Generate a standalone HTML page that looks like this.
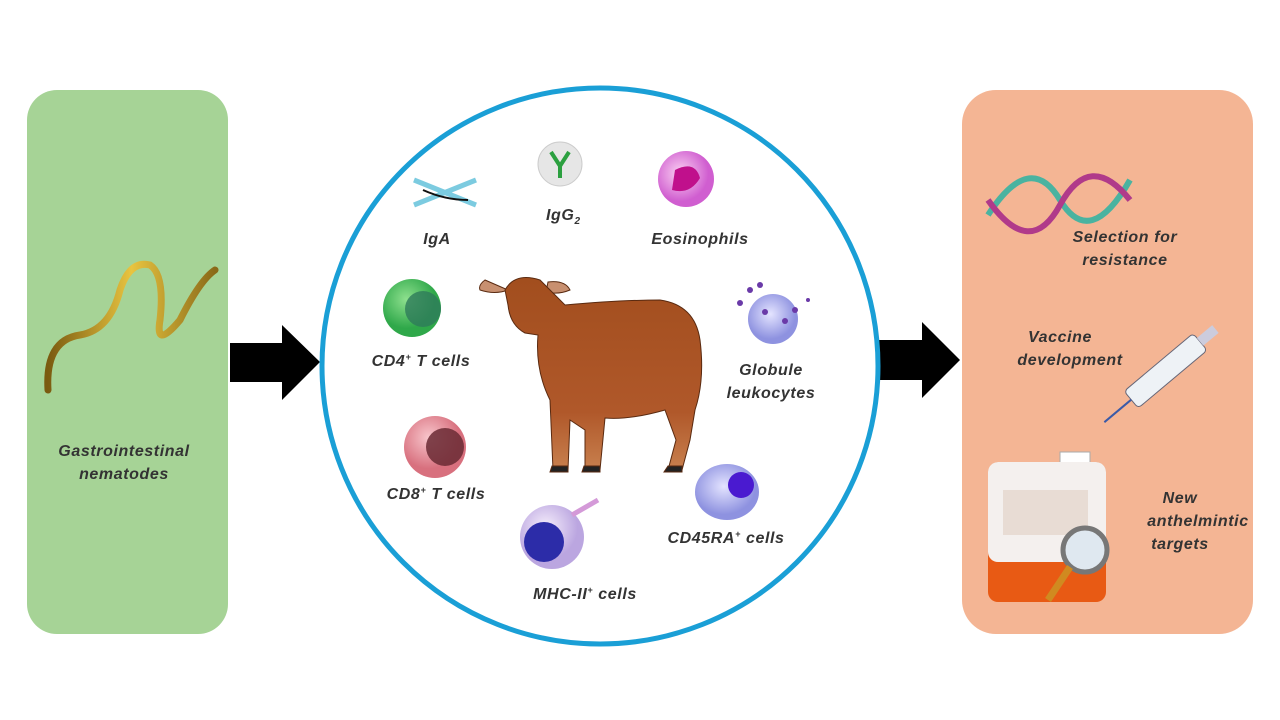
<!DOCTYPE html>
<html><head><meta charset="utf-8"><style>
html,body{margin:0;padding:0;background:#fff;}
svg{display:block;}
text{font-family:"Liberation Sans",sans-serif;font-style:italic;font-weight:bold;font-size:16px;letter-spacing:0.6px;fill:#333;}
</style></head><body>
<svg width="1280" height="720" viewBox="0 0 1280 720">
<defs>
<radialGradient id="g1" cx="40%" cy="35%"><stop offset="0" stop-color="#8ee08e"/><stop offset="1" stop-color="#2fa84a"/></radialGradient>
<radialGradient id="g2" cx="40%" cy="35%"><stop offset="0" stop-color="#f8c6cc"/><stop offset="1" stop-color="#d8707e"/></radialGradient>
<radialGradient id="g3" cx="40%" cy="35%"><stop offset="0" stop-color="#f6eefc"/><stop offset="1" stop-color="#bba6e0"/></radialGradient>
<radialGradient id="g4" cx="45%" cy="40%"><stop offset="0" stop-color="#e4e4ff"/><stop offset="1" stop-color="#8e92e0"/></radialGradient>
<radialGradient id="g5" cx="40%" cy="40%"><stop offset="0" stop-color="#fbd2f2"/><stop offset="1" stop-color="#d05ed0"/></radialGradient>
<linearGradient id="worm" x1="0" x2="1"><stop offset="0" stop-color="#7a5a10"/><stop offset="0.5" stop-color="#e8c440"/><stop offset="1" stop-color="#8a6a18"/></linearGradient>
<linearGradient id="goat" x1="0" y1="0" x2="0" y2="1"><stop offset="0" stop-color="#a24e1e"/><stop offset="0.7" stop-color="#b0582a"/><stop offset="1" stop-color="#c8804e"/></linearGradient>
</defs>
<rect x="27" y="90" width="201" height="544" rx="30" fill="#a6d396"/>
<rect x="962" y="90" width="291" height="544" rx="34" fill="#f4b594"/>
<!-- worm -->
<path d="M48 390 Q45 340 80 335 Q110 330 120 290 Q130 260 150 265 Q165 275 160 320 Q155 350 180 320 Q200 280 215 270" fill="none" stroke="url(#worm)" stroke-width="7" stroke-linecap="round"/>
<text x="124" y="456" text-anchor="middle">Gastrointestinal</text>
<text x="124" y="479" text-anchor="middle">nematodes</text>
<!-- arrows -->
<polygon points="230,343 282,343 282,325 320,362 282,400 282,382 230,382" fill="#000"/>
<polygon points="868,340 922,340 922,322 960,360 922,398 922,380 868,380" fill="#000"/>
<!-- circle -->
<circle cx="600" cy="366" r="278" fill="#fff" stroke="#1a9fd6" stroke-width="5"/>
<!-- IgA -->
<g stroke="#7ccbe0" stroke-width="5"><line x1="414" y1="180" x2="476" y2="205"/><line x1="414" y1="205" x2="476" y2="180"/></g>
<path d="M423 190 Q445 200 468 200" stroke="#111" stroke-width="2" fill="none"/>
<text x="437" y="244" text-anchor="middle">IgA</text>
<circle cx="560" cy="164" r="22" fill="#e6e6e6" stroke="#ccc"/>
<path d="M551 152 L560 166 L569 152 M560 166 L560 178" stroke="#2ca040" stroke-width="4" fill="none"/>
<text x="546" y="220" text-anchor="start">IgG<tspan font-size="10" dy="4">2</tspan></text>
<circle cx="686" cy="179" r="28" fill="url(#g5)"/>
<path d="M675 170 Q695 160 700 178 Q690 195 672 190" fill="#c0108c"/>
<text x="700" y="244" text-anchor="middle">Eosinophils</text>
<circle cx="412" cy="308" r="29" fill="url(#g1)"/>
<circle cx="423" cy="309" r="18" fill="#2e7a5a" opacity="0.8"/>
<text x="421" y="366" text-anchor="middle">CD4<tspan font-size="9" dy="-6">+</tspan><tspan dy="6"> T cells</tspan></text>
<circle cx="435" cy="447" r="31" fill="url(#g2)"/>
<circle cx="445" cy="447" r="19" fill="#6a2a34" opacity="0.85"/>
<text x="436" y="499" text-anchor="middle">CD8<tspan font-size="9" dy="-6">+</tspan><tspan dy="6"> T cells</tspan></text>
<circle cx="552" cy="537" r="32" fill="url(#g3)"/>
<circle cx="544" cy="542" r="20" fill="#2c2ca8"/>
<line x1="572" y1="515" x2="598" y2="500" stroke="#d49ad8" stroke-width="5"/>
<text x="585" y="599" text-anchor="middle">MHC-II<tspan font-size="9" dy="-6">+</tspan><tspan dy="6"> cells</tspan></text>
<ellipse cx="727" cy="492" rx="32" ry="28" fill="url(#g4)"/>
<circle cx="741" cy="485" r="13" fill="#4a1ad0"/>
<text x="726" y="543" text-anchor="middle">CD45RA<tspan font-size="9" dy="-6">+</tspan><tspan dy="6"> cells</tspan></text>
<circle cx="773" cy="319" r="25" fill="url(#g4)"/>
<g fill="#6a3aa8"><circle cx="750" cy="290" r="3"/><circle cx="760" cy="285" r="3"/><circle cx="795" cy="310" r="3"/><circle cx="808" cy="300" r="2"/><circle cx="740" cy="303" r="3"/><circle cx="765" cy="312" r="3"/><circle cx="785" cy="321" r="3"/></g>
<text x="771" y="375" text-anchor="middle">Globule</text>
<text x="771" y="398" text-anchor="middle">leukocytes</text>
<!-- goat -->
<g stroke="#5a2a10" stroke-width="1">
<path d="M485 280 Q478 285 480 290 Q495 295 508 290 Z" fill="#c89070"/>
<path d="M548 282 Q565 280 570 290 Q558 295 546 292 Z" fill="#c89070"/>
<path d="M505 290 Q515 272 540 280 Q555 295 565 305 Q620 300 660 300 Q695 305 700 340 Q705 380 695 410 L690 440 L682 470 L668 470 L676 440 L665 410 Q630 420 605 418 L600 470 L585 470 L585 430 L570 420 L568 470 L553 470 L550 400 Q535 370 538 335 L525 333 Q510 325 508 305 Z" fill="url(#goat)"/>
<path d="M552 466 L568 466 L568 472 L550 472 Z M584 466 L600 466 L600 472 L582 472 Z M668 466 L682 466 L682 472 L664 472 Z" fill="#222"/>
</g>
<!-- right panel -->
<g stroke-width="6" fill="none"><path d="M988 215 Q1030 150 1060 200 Q1090 250 1130 180" stroke="#4ab3a0"/><path d="M988 200 Q1030 260 1060 205 Q1090 150 1130 200" stroke="#b03a8a"/></g>
<text x="1125" y="242" text-anchor="middle">Selection for</text>
<text x="1125" y="265" text-anchor="middle">resistance</text>
<text x="1060" y="342" text-anchor="middle">Vaccine</text>
<text x="1070" y="365" text-anchor="middle">development</text>
<g transform="rotate(-40 1165 370)"><rect x="1120" y="360" width="90" height="22" rx="4" fill="#eef2f6" stroke="#667"/><line x1="1085" y1="371" x2="1120" y2="371" stroke="#3a5aa8" stroke-width="2"/><rect x="1210" y="366" width="20" height="10" fill="#ccd"/></g>
<rect x="1060" y="452" width="30" height="20" fill="#fff" stroke="#aaa"/>
<rect x="988" y="462" width="118" height="140" rx="10" fill="#e85a14"/>
<rect x="988" y="462" width="118" height="100" rx="10" fill="#f4f0ee"/>
<rect x="1003" y="490" width="85" height="45" fill="#e8dcd4"/>
<circle cx="1085" cy="550" r="22" fill="#dfe8f0" stroke="#777" stroke-width="5"/>
<line x1="1070" y1="567" x2="1048" y2="600" stroke="#d08a20" stroke-width="7"/>
<text x="1180" y="503" text-anchor="middle">New</text>
<text x="1198" y="526" text-anchor="middle">anthelmintic</text>
<text x="1180" y="549" text-anchor="middle">targets</text>
</svg>
</body></html>
